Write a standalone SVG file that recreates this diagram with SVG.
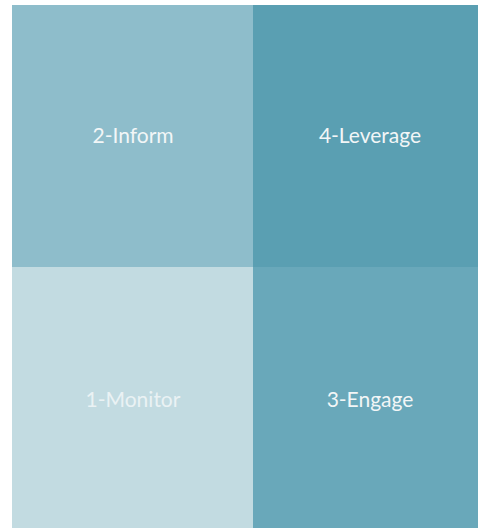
<svg xmlns="http://www.w3.org/2000/svg" width="478" height="528" viewBox="0 0 478 528">
  <style>
    .lbl { font-family: Lato, "Open Sans", "Liberation Sans", sans-serif; font-size: 21px; text-anchor: middle; }
    .light { fill: #F2F6F7; }
    .pale { fill: #EAF2F4; }
  </style>
  <rect x="0" y="0" width="478" height="528" fill="#FFFFFF"/>
  <g id="inform">
    <rect x="12" y="5" width="241" height="262" fill="#8EBDCB"/>
    <text class="lbl light" x="133" y="143">2-Inform</text>
  </g>
  <g id="leverage">
    <rect x="253" y="5" width="225" height="262" fill="#5A9FB2"/>
    <text class="lbl light" x="370" y="143">4-Leverage</text>
  </g>
  <g id="monitor">
    <rect x="12" y="267" width="241" height="261" fill="#C2DBE1"/>
    <text class="lbl pale" x="133" y="407">1-Monitor</text>
  </g>
  <g id="engage">
    <rect x="253" y="267" width="225" height="261" fill="#69A8BA"/>
    <text class="lbl light" x="370" y="407">3-Engage</text>
  </g>
  <g id="connectors"/>
</svg>
